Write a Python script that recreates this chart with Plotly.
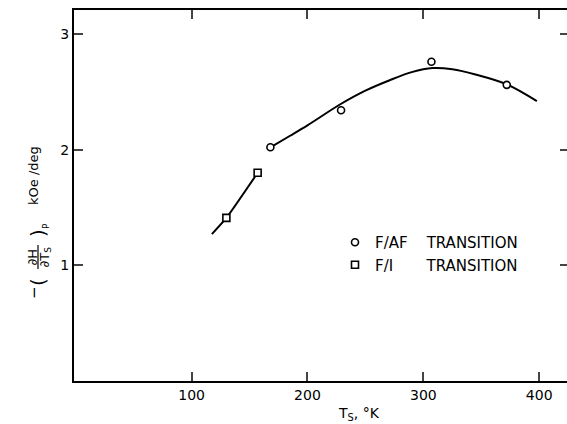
import plotly.graph_objects as go

# ---- data ----
faf_T = [168, 229, 307, 372]
faf_v = [2.02, 2.34, 2.76, 2.56]

fi_T = [130, 157]
fi_v = [1.41, 1.80]

# smooth curve drawn through F/AF points
curve_T = [168, 185, 200, 228, 250, 271, 290, 308, 325, 345, 372, 398]
curve_v = [2.02, 2.12, 2.21, 2.39, 2.51, 2.60, 2.67, 2.705, 2.695, 2.65, 2.565, 2.42]

# line through F/I points
fi_line_T = [117.5, 130, 157]
fi_line_v = [1.27, 1.41, 1.80]

x_ticks = [100, 200, 300, 400]
y_ticks = [1, 2, 3]

W, H = 567, 424
L, R, T, B = 74, 0, 10, 43
PW, PH = W - L - R, H - T - B


def px(xp):
    return (xp - L) / PW


def py(yp):
    return (H - B - yp) / PH


FONT = "DejaVu Sans"
NB = "\u00a0"

fig = go.Figure()

fig.add_trace(go.Scatter(x=curve_T, y=curve_v, mode="lines", line=dict(color="black", width=2, shape="spline", smoothing=0.9),
                         showlegend=False, hoverinfo="skip"))
fig.add_trace(go.Scatter(x=fi_line_T, y=fi_line_v, mode="lines", line=dict(color="black", width=2, shape="spline", smoothing=0.5),
                         showlegend=False, hoverinfo="skip"))
fig.add_trace(go.Scatter(x=faf_T, y=faf_v, mode="markers", name="F/AF" + NB * 4 + "TRANSITION",
                         marker=dict(symbol="circle", size=7, color="white", line=dict(color="black", width=1.6))))
fig.add_trace(go.Scatter(x=fi_T, y=fi_v, mode="markers", name="F/I" + NB * 7 + "TRANSITION",
                         marker=dict(symbol="square", size=7, color="white", line=dict(color="black", width=1.6))))
# invisible trace to carry the right-hand tick axis
fig.add_trace(go.Scatter(x=curve_T, y=curve_v, yaxis="y2", mode="lines", opacity=0, showlegend=False, hoverinfo="skip"))

fig.update_layout(
    width=W, height=H,
    margin=dict(l=L, r=R, t=T, b=B),
    paper_bgcolor="white", plot_bgcolor="white",
    font=dict(family=FONT, color="black", size=14),
    xaxis=dict(range=[-1.5, 424], tickvals=x_ticks, ticks="inside", ticklen=9, tickwidth=1.5,
               showline=True, linewidth=2, linecolor="black", mirror="ticks",
               showgrid=False, zeroline=False, tickfont=dict(size=14, family=FONT)),
    yaxis=dict(range=[0, 3.207], tickvals=y_ticks, ticks="inside", ticklen=9, tickwidth=1.5,
               showline=True, linewidth=2, linecolor="black", mirror=False,
               showgrid=False, zeroline=False, tickfont=dict(size=14, family=FONT)),
    yaxis2=dict(range=[0, 3.207], overlaying="y", side="right", tickvals=y_ticks, ticks="inside",
                ticklen=7, tickwidth=1.5, showticklabels=False, showline=False, showgrid=False, zeroline=False),
    legend=dict(x=px(335), y=py(226), xanchor="left", yanchor="top", bgcolor="rgba(0,0,0,0)",
                font=dict(family=FONT, size=15, color="black"), itemsizing="trace"),
    showlegend=True,
)

ann = []
# x-axis title
ann.append(dict(x=px(359), y=py(414), xref="paper", yref="paper", text="T<sub>S</sub>, °K",
                showarrow=False, font=dict(size=14, family=FONT), xanchor="center", yanchor="middle"))
# y-axis title pieces (rotated)
ann.append(dict(x=px(33), y=py(176), xref="paper", yref="paper", text="kOe /deg", textangle=-90,
                showarrow=False, font=dict(size=13, family=FONT), xanchor="center", yanchor="middle"))
ann.append(dict(x=px(34), y=py(293), xref="paper", yref="paper", text="−", textangle=-90,
                showarrow=False, font=dict(size=15, family=FONT), xanchor="center", yanchor="middle"))
ann.append(dict(x=px(38), y=py(282), xref="paper", yref="paper", text="(", textangle=-90,
                showarrow=False, font=dict(size=20, family=FONT), xanchor="center", yanchor="middle"))
ann.append(dict(x=px(31.5), y=py(257), xref="paper", yref="paper", text="∂H", textangle=-90,
                showarrow=False, font=dict(size=13, family=FONT), xanchor="center", yanchor="middle"))
ann.append(dict(x=px(44.5), y=py(257), xref="paper", yref="paper", text="∂T<sub>S</sub>", textangle=-90,
                showarrow=False, font=dict(size=13, family=FONT), xanchor="center", yanchor="middle"))
ann.append(dict(x=px(38), y=py(233), xref="paper", yref="paper", text=")", textangle=-90,
                showarrow=False, font=dict(size=20, family=FONT), xanchor="center", yanchor="middle"))
ann.append(dict(x=px(46), y=py(226), xref="paper", yref="paper", text="P", textangle=-90,
                showarrow=False, font=dict(size=9, family=FONT), xanchor="center", yanchor="middle"))
fig.update_layout(annotations=ann)

fig.add_shape(type="line", xref="paper", yref="paper", x0=px(38), x1=px(38), y0=py(245), y1=py(269),
              line=dict(color="black", width=1.2))

fig.write_html("out.html", post_script="document.body.style.margin='0';",
               config={"displayModeBar": False})
